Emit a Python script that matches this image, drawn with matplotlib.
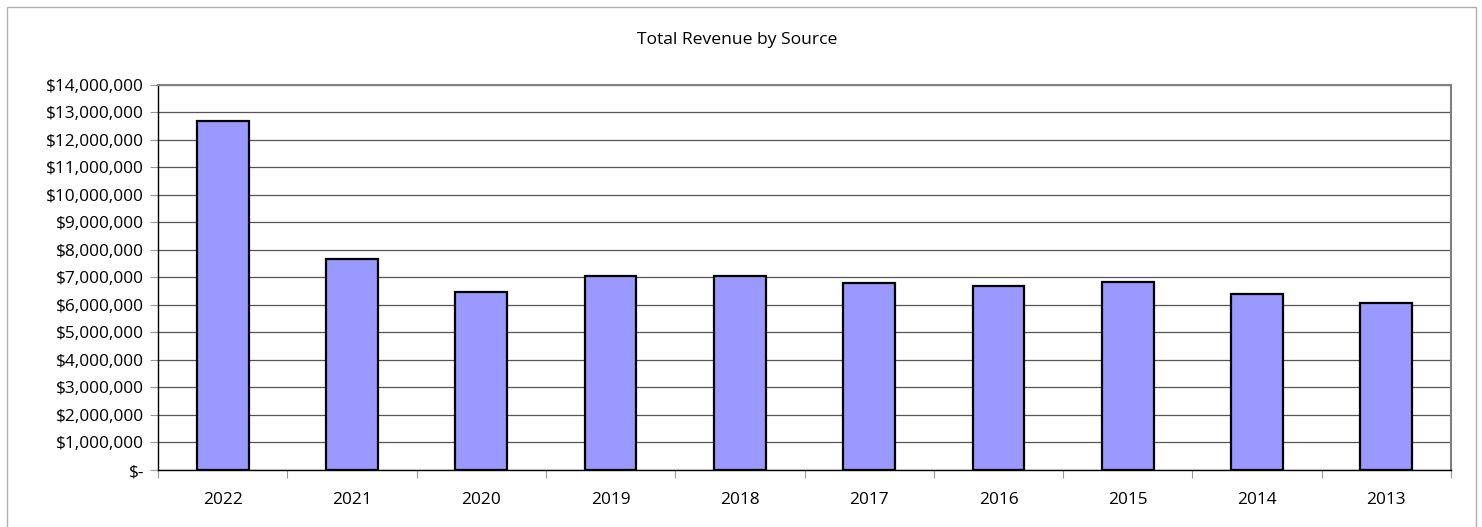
import matplotlib
matplotlib.use("Agg")
import matplotlib.pyplot as plt
import numpy as np
from matplotlib.patches import Rectangle
from matplotlib.ticker import FuncFormatter, FixedLocator

years = ["2022", "2021", "2020", "2019", "2018", "2017", "2016", "2015", "2014", "2013"]
revenue = [12690000, 7670000, 6460000, 7050000, 7050000, 6790000, 6700000, 6840000, 6400000, 6080000]
y_ticks = list(range(0, 14000001, 1000000))

plt.rcParams['font.family'] = ['Open Sans', 'DejaVu Sans']

fig = plt.figure(figsize=(14.82, 5.27), dpi=100)
fig.patches.append(Rectangle((6.5/1482, -10/527), (1476-6.5)/1482, (520+10)/527, transform=fig.transFigure,
                             fill=False, edgecolor='#b0b0b0', linewidth=1.0))
ax = fig.add_axes([158/1482, 1-470/527, (1451-158)/1482, (470-84.5)/527])

x = np.arange(len(years))
ax.bar(x, revenue, width=0.4, color='#9999FF', edgecolor='black', linewidth=1.6, zorder=3)

ax.set_xlim(-0.5, len(years)-0.5)
ax.set_ylim(0, 14000000)
ax.set_yticks(y_ticks)

def fmt(v, pos):
    if v == 0:
        return "$-"
    return "${:,.0f}".format(v)
ax.yaxis.set_major_formatter(FuncFormatter(fmt))
ax.set_xticks(x)
ax.set_xticklabels(years)
ax.xaxis.set_minor_locator(FixedLocator(np.arange(-0.5, len(years), 1.0)))
ax.tick_params(axis='x', which='major', length=0, pad=16, labelsize=12.4)
ax.tick_params(axis='x', which='minor', length=6, width=0.8, color='#999999')
ax.tick_params(axis='y', which='major', length=6, width=0.8, color='#999999', pad=4, labelsize=12.4)

ax.grid(axis='y', color='#555555', linewidth=0.9, zorder=0)
for s in ['top', 'right']:
    ax.spines[s].set_color('#808080')
    ax.spines[s].set_linewidth(1.5)
for s in ['left', 'bottom']:
    ax.spines[s].set_color('black')
    ax.spines[s].set_linewidth(1.0)

fig.text(737/1482, 1-40/527, "Total Revenue by Source", ha='center', va='center', fontsize=12.6)

fig.savefig("out.png", dpi=100)
